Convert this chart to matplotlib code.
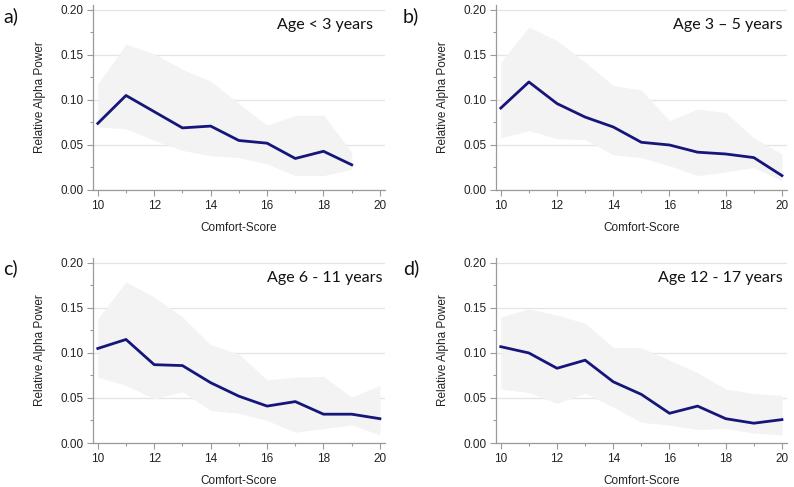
import matplotlib
matplotlib.use('Agg')
import matplotlib.pyplot as plt
from matplotlib.ticker import MultipleLocator

# data
scores_a = [10, 11, 12, 13, 14, 15, 16, 17, 18, 19]
mean_a = [0.074, 0.105, 0.087, 0.069, 0.071, 0.055, 0.052, 0.035, 0.043, 0.028]
upper_a = [0.118, 0.162, 0.151, 0.134, 0.121, 0.096, 0.072, 0.083, 0.083, 0.042]
lower_a = [0.070, 0.068, 0.055, 0.044, 0.038, 0.036, 0.029, 0.016, 0.016, 0.023]

scores_b = [10, 11, 12, 13, 14, 15, 16, 17, 18, 19, 20]
mean_b = [0.091, 0.120, 0.096, 0.081, 0.070, 0.053, 0.050, 0.042, 0.040, 0.036, 0.016]
upper_b = [0.142, 0.181, 0.166, 0.142, 0.116, 0.111, 0.077, 0.090, 0.086, 0.058, 0.040]
lower_b = [0.058, 0.066, 0.057, 0.056, 0.039, 0.036, 0.027, 0.016, 0.020, 0.025, 0.010]

scores_c = [10, 11, 12, 13, 14, 15, 16, 17, 18, 19, 20]
mean_c = [0.105, 0.115, 0.087, 0.086, 0.067, 0.052, 0.041, 0.046, 0.032, 0.032, 0.027]
upper_c = [0.138, 0.179, 0.162, 0.140, 0.109, 0.099, 0.070, 0.073, 0.074, 0.051, 0.064]
lower_c = [0.073, 0.064, 0.049, 0.057, 0.036, 0.033, 0.025, 0.012, 0.016, 0.020, 0.009]

scores_d = [10, 11, 12, 13, 14, 15, 16, 17, 18, 19, 20]
mean_d = [0.107, 0.100, 0.083, 0.092, 0.068, 0.054, 0.033, 0.041, 0.027, 0.022, 0.026]
upper_d = [0.140, 0.149, 0.142, 0.133, 0.106, 0.106, 0.092, 0.078, 0.060, 0.055, 0.053]
lower_d = [0.060, 0.056, 0.044, 0.055, 0.040, 0.023, 0.020, 0.015, 0.016, 0.011, 0.009]

panel_tags = ['a)', 'b)', 'c)', 'd)']
age_titles = ['Age < 3 years', 'Age 3 – 5 years', 'Age 6 - 11 years', 'Age 12 - 17 years']

panels = [
    (scores_a, mean_a, upper_a, lower_a),
    (scores_b, mean_b, upper_b, lower_b),
    (scores_c, mean_c, upper_c, lower_c),
    (scores_d, mean_d, upper_d, lower_d),
]

plt.rcParams['font.family'] = ['Liberation Sans', 'DejaVu Sans']

W, H = 794, 487
fig = plt.figure(figsize=(W / 100, H / 100), dpi=100)

# axes boxes in pixels: left, right, top, bottom
boxes = [(93, 385, 5, 190), (496, 787, 5, 190),
         (93, 385, 258, 443), (496, 787, 258, 443)]
title_x = [0.96, 0.985, 0.99, 0.985]
tag_pos = [(3, 16), (403, 16), (3, 268), (403, 268)]

line_col = '#16167a'
band_col = '#f3f3f3'
axis_col = '#9a9a9a'

for i, (x, m, up, lo) in enumerate(panels):
    l, r, t, b = boxes[i]
    ax = fig.add_axes([l / W, 1 - b / H, (r - l) / W, (b - t) / H])
    ax.fill_between(x, lo, up, color=band_col, linewidth=0, zorder=1)
    ax.plot(x, m, color=line_col, linewidth=2.0, zorder=3)

    ax.set_xlim(9.83, 20.18)
    ax.set_ylim(0, 0.2055)
    ax.xaxis.set_major_locator(MultipleLocator(2))
    ax.xaxis.set_minor_locator(MultipleLocator(1))
    ax.yaxis.set_major_locator(MultipleLocator(0.05))
    ax.yaxis.set_minor_locator(MultipleLocator(0.025))
    ax.yaxis.set_major_formatter(matplotlib.ticker.FormatStrFormatter('%.2f'))
    ax.grid(axis='y', which='major', color='#e4e4e4', linewidth=0.9, zorder=0)
    ax.set_axisbelow(True)

    for s in ['top', 'right']:
        ax.spines[s].set_visible(False)
    for s in ['left', 'bottom']:
        ax.spines[s].set_color(axis_col)
        ax.spines[s].set_linewidth(0.9)

    ax.tick_params(which='major', length=4, width=0.8, color=axis_col,
                   labelsize=8.5, labelcolor='#222222', pad=3)
    ax.tick_params(which='minor', length=2.5, width=0.8, color=axis_col)

    ax.set_xlabel('Comfort-Score', fontsize=8.5, color='#222222')
    ax.set_ylabel('Relative Alpha Power', fontsize=8.5, color='#222222')
    ax.xaxis.set_label_coords(0.5, -0.172)
    ax.yaxis.set_label_coords(-0.162, 0.5)

    ax.text(title_x[i], 0.89, age_titles[i], transform=ax.transAxes,
            ha='right', va='center', fontsize=11.5, family=['Lato', 'DejaVu Sans'],
            color='#111111')
    fig.text(tag_pos[i][0] / W, 1 - tag_pos[i][1] / H, panel_tags[i],
             ha='left', va='center', fontsize=14, family=['Lato', 'DejaVu Sans'],
             color='#111111')

fig.savefig('out.png', dpi=100)
